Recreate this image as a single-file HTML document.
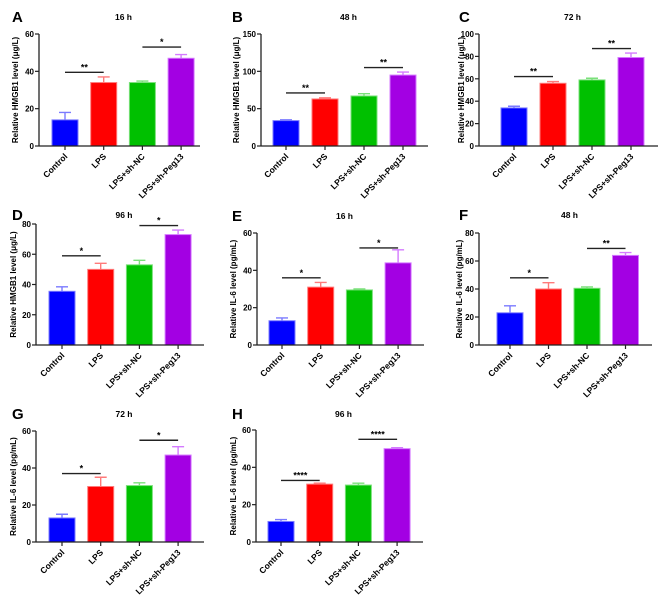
<!DOCTYPE html>
<html><head><meta charset="utf-8"><style>
body{margin:0;background:#fff;}
svg{display:block;font-family:"Liberation Sans",Arial,sans-serif;}
</style></head><body>
<svg id="fig" width="666" height="608" viewBox="0 0 666 608"></svg>
<script>
const categories = ["Control","LPS","LPS+sh-NC","LPS+sh-Peg13"];
const panelLetters = ["A","B","C","D","E","F","G","H"];
const panelTitles = ["16 h","48 h","72 h","96 h","16 h","48 h","72 h","96 h"];
const yTitles = ["Relative HMGB1 level (μg/L)","Relative HMGB1 level (μg/L)","Relative HMGB1 level (μg/L)","Relative HMGB1 level (μg/L)","Relative IL-6 level (pg/mL)","Relative IL-6 level (pg/mL)","Relative IL-6 level (pg/mL)","Relative IL-6 level (pg/mL)"];
const valuesA = [14,34,34,47];   const errA = [4,3,0.8,2];
const valuesB = [34,63,67,95];   const errB = [1,1.5,3,4];
const valuesC = [34,56,59,79];   const errC = [1.5,1.5,1.5,4];
const valuesD = [35.5,50,53,73]; const errD = [3,4,3,3];
const valuesE = [13,31,29.5,44]; const errE = [1.5,2.5,0.5,7];
const valuesF = [23,40,40.5,64]; const errF = [5,4.5,1,2];
const valuesG = [13,30,30.5,47]; const errG = [2,5,1.5,4.5];
const valuesH = [11,31,30.5,50]; const errH = [1,0.5,1,0.5];
const yMax = [60,150,100,80,60,80,60,60];
const yStep = [20,50,20,20,20,20,20,20];
const sigLevel1 = [39.5,71,62,59,36,48,37,33];
const sigLevel2 = [53,105,87,79,52,69,55,55];
const sigText1 = ["**","**","**","*","*","*","*","****"];
const sigText2 = ["*","**","**","*","*","**","*","****"];
const allValues = [valuesA,valuesB,valuesC,valuesD,valuesE,valuesF,valuesG,valuesH];
const allErr = [errA,errB,errC,errD,errE,errF,errG,errH];

// layout: axisX, firstBarLeft, pitch, axisEnd, top, bottom, letterX, letterY, ytitleX
const layout = [
 [39,52,38.7,200,34,146,12,17,15],
 [261,273,39,428,34,146,232,17,236],
 [479,501,39,658,34,146,459,17,461],
 [36,49,38.7,204,224,345,12,215,13],
 [257,269,38.7,424,233,345,232,216,233],
 [479,497,38.5,652,233,345,459,215,459],
 [36,49,38.7,204,431,542,12,414,13],
 [256,268,38.7,423,430,542,232,414,233]
];
const fills = ["#0000ff","#ff0000","#00c000","#a300e3"];
const strokes = ["#7a7aff","#ff7a7a","#7ae07a","#d47aff"];
const NS="http://www.w3.org/2000/svg";
const fig=document.getElementById('fig');
function mk(tag,attrs,parent,text){const e=document.createElementNS(NS,tag);for(const k in attrs)e.setAttribute(k,attrs[k]);if(text!==undefined)e.textContent=text;parent.appendChild(e);return e;}

allValues.forEach((vals,p)=>{
  const [ax,b0,pitch,aend,top,bot,lx,ly,ytx]=layout[p];
  const g=mk('g',{},fig);
  
  
  const y=v=>bot-(v/yMax[p])*(bot-top);
  const bw=26;
  const xc=i=>b0+i*pitch+bw/2;
  const L=mk('text',{x:lx,y:ly+5,'font-size':15,'font-weight':'bold'},g,panelLetters[p]);
  
  
  const T=mk('text',{x:(ax+aend)/2+4,y:ly+3,'font-size':8.5,'font-weight':'bold','text-anchor':'middle'},g,panelTitles[p]);
  
  
  const yt=mk('text',{x:0,y:0,'font-size':8,'font-weight':'bold','text-anchor':'middle',transform:`translate(${ytx+3},${(top+bot)/2}) rotate(-90)`},g,yTitles[p]);
  
  
  vals.forEach((v,i)=>{
    const e=allErr[p][i];
    const eb=mk('path',{d:`M${xc(i)} ${y(v)} V${y(v+e)} M${xc(i)-6} ${y(v+e)} H${xc(i)+6}`,stroke:strokes[i],'stroke-width':1.4,fill:'none'},g);
    
    
    const r=mk('rect',{x:b0+i*pitch,y:y(v),width:bw,height:bot-y(v),fill:fills[i],stroke:strokes[i],'stroke-width':1},g);
    
    
  });
  const yaxis=mk('path',{d:`M${ax} ${top} V${bot}`,stroke:'#222','stroke-width':1.3,fill:'none'},g);
  
  
  const xaxis=mk('path',{d:`M${ax} ${bot} H${aend}`,stroke:'#222','stroke-width':1.3,fill:'none'},g);
  
  
  for(let t=0;t<=yMax[p];t+=yStep[p]){
    mk('path',{d:`M${ax-4} ${y(t)} H${ax}`,stroke:'#222','stroke-width':1.2},g);
    const tl=mk('text',{x:ax-5,y:y(t)+3,'font-size':8,'font-weight':'bold','text-anchor':'end'},g,String(t));
    
    
  }
  categories.forEach((c,i)=>{
    mk('path',{d:`M${xc(i)} ${bot} V${bot+4}`,stroke:'#222','stroke-width':1.2},g);
    const xl=mk('text',{x:0,y:0,'font-size':8.5,'font-weight':'bold','text-anchor':'end',transform:`translate(${xc(i)+3},${bot+11}) rotate(-45)`},g,c);
    
    
  });
  [[0,1,sigLevel1[p],sigText1[p]],[2,3,sigLevel2[p],sigText2[p]]].forEach(([a,b,lv,tx])=>{
    const s=mk('path',{d:`M${xc(a)} ${y(lv)} H${xc(b)}`,stroke:'#222','stroke-width':1.4},g);
    
    
    const st=mk('text',{x:(xc(a)+xc(b))/2,y:y(lv)-2,'font-size':9,'font-weight':'bold','text-anchor':'middle'},g,tx);
    
    
  });
});
</script>
</body></html>
